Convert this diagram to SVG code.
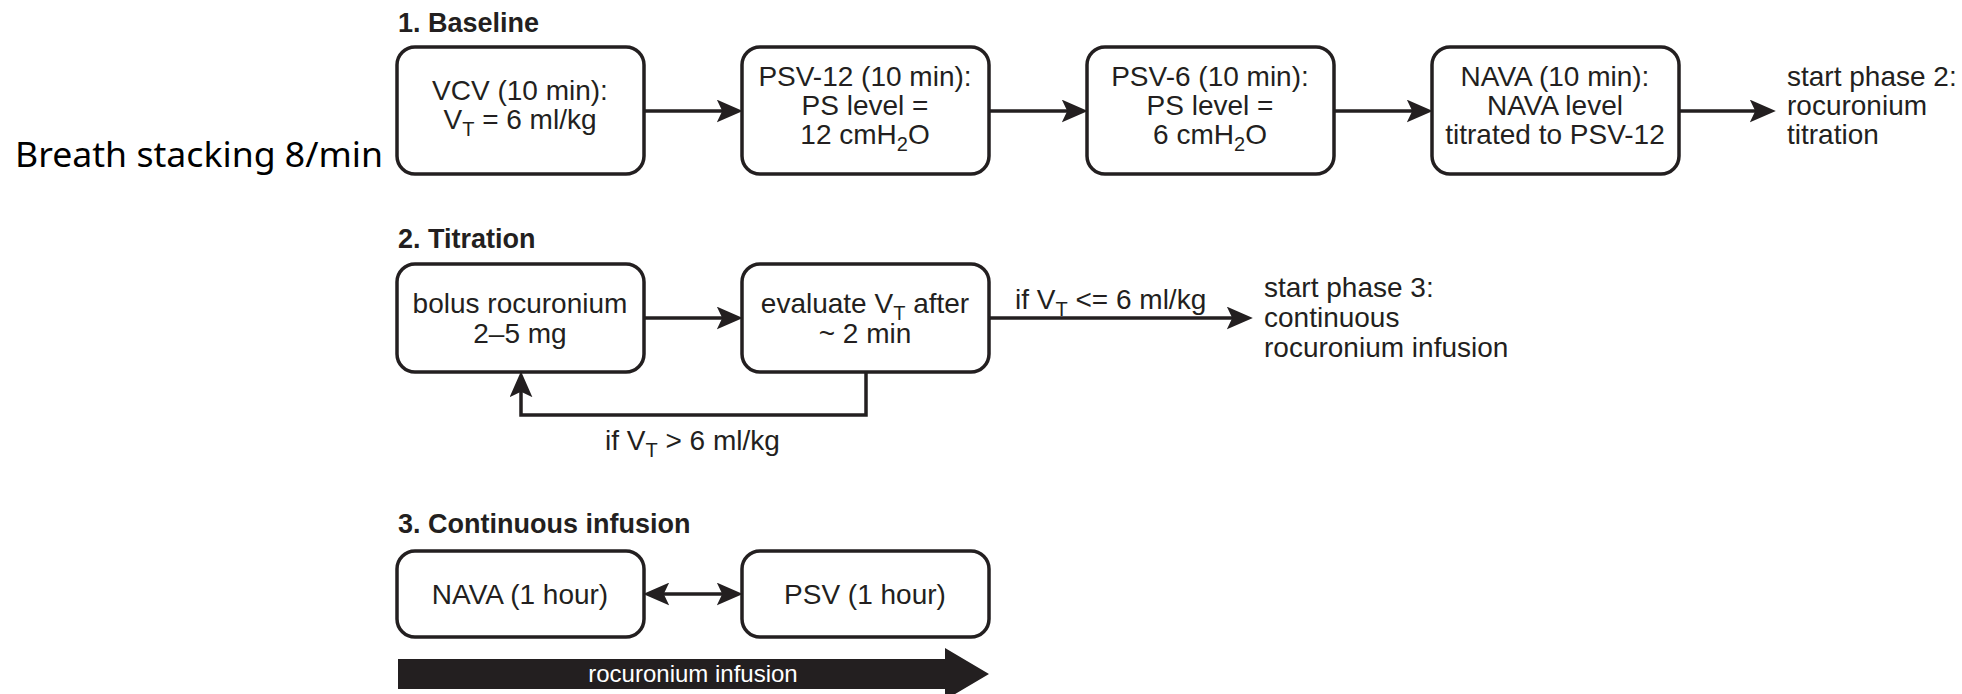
<svg xmlns="http://www.w3.org/2000/svg" width="1962" height="694" viewBox="0 0 1962 694">
  <style>
    .box { fill: #ffffff; stroke: #231f20; stroke-width: 3.5; }
    .lbl { font-family: "Liberation Sans", Arial, sans-serif; font-size: 28px; fill: #231f20; }
    .mid { text-anchor: middle; }
    .head { font-family: "Liberation Sans", Arial, sans-serif; font-size: 27px; font-weight: bold; fill: #231f20; }
    .sub { font-size: 20px; }
    .conn { fill: none; stroke: #231f20; stroke-width: 3.5; }
  </style>
  <defs>
    <marker id="arrow" markerUnits="userSpaceOnUse" markerWidth="26" markerHeight="23" refX="14" refY="10.5" orient="auto-start-reverse" viewBox="0 0 24 21">
      <path d="M0,0 L24,10.5 L0,21 L5,10.5 Z" fill="#231f20"/>
    </marker>
  </defs>
  <rect width="1962" height="694" fill="#ffffff"/>

  <!-- side note -->
  <text x="15" y="167" font-family="'Noto Sans', 'Noto Sans CJK KR', sans-serif" font-size="35" fill="#000000" textLength="368" lengthAdjust="spacingAndGlyphs">Breath stacking 8/min</text>

  <!-- phase headings -->
  <text class="head" x="398" y="32">1. Baseline</text>
  <text class="head" x="398" y="248">2. Titration</text>
  <text class="head" x="398" y="533">3. Continuous infusion</text>

  <!-- phase 1 -->
  <g id="vcv">
    <rect class="box" x="397" y="47" width="247" height="127" rx="18"/>
    <text class="lbl mid" x="520" y="100">VCV (10 min):</text>
    <text class="lbl mid" x="520" y="129">V<tspan class="sub" dy="7">T</tspan><tspan dy="-7"> = 6 ml/kg</tspan></text>
  </g>
  <g id="psv12">
    <rect class="box" x="742" y="47" width="247" height="127" rx="18"/>
    <text class="lbl mid" x="865" y="86">PSV-12 (10 min):</text>
    <text class="lbl mid" x="865" y="115">PS level =</text>
    <text class="lbl mid" x="865" y="144">12 cmH<tspan class="sub" dy="7">2</tspan><tspan dy="-7">O</tspan></text>
  </g>
  <g id="psv6">
    <rect class="box" x="1087" y="47" width="247" height="127" rx="18"/>
    <text class="lbl mid" x="1210" y="86">PSV-6 (10 min):</text>
    <text class="lbl mid" x="1210" y="115">PS level =</text>
    <text class="lbl mid" x="1210" y="144">6 cmH<tspan class="sub" dy="7">2</tspan><tspan dy="-7">O</tspan></text>
  </g>
  <g id="nava">
    <rect class="box" x="1432" y="47" width="247" height="127" rx="18"/>
    <text class="lbl mid" x="1555" y="86">NAVA (10 min):</text>
    <text class="lbl mid" x="1555" y="115">NAVA level</text>
    <text class="lbl mid" x="1555" y="144">titrated to PSV-12</text>
  </g>
  <g id="phase2-start">
    <text class="lbl" x="1787" y="86">start phase 2:</text>
    <text class="lbl" x="1787" y="115">rocuronium</text>
    <text class="lbl" x="1787" y="144">titration</text>
  </g>

  <!-- phase 2 -->
  <g id="bolus">
    <rect class="box" x="397" y="264" width="247" height="108" rx="18"/>
    <text class="lbl mid" x="520" y="313">bolus rocuronium</text>
    <text class="lbl mid" x="520" y="343">2–5 mg</text>
  </g>
  <g id="evaluate">
    <rect class="box" x="742" y="264" width="247" height="108" rx="18"/>
    <text class="lbl mid" x="865" y="313">evaluate V<tspan class="sub" dy="7">T</tspan><tspan dy="-7"> after</tspan></text>
    <text class="lbl mid" x="865" y="343">~ 2 min</text>
  </g>
  <g id="phase3-start">
    <text class="lbl" x="1264" y="297">start phase 3:</text>
    <text class="lbl" x="1264" y="327">continuous</text>
    <text class="lbl" x="1264" y="357">rocuronium infusion</text>
  </g>

  <!-- phase 3 -->
  <g id="nava-hour">
    <rect class="box" x="397" y="551" width="247" height="86" rx="18"/>
    <text class="lbl mid" x="520" y="604">NAVA (1 hour)</text>
  </g>
  <g id="psv-hour">
    <rect class="box" x="742" y="551" width="247" height="86" rx="18"/>
    <text class="lbl mid" x="865" y="604">PSV (1 hour)</text>
  </g>
  <g id="infusion">
    <polygon points="398,659 945,659 945,648 989,674 945,700 945,689 398,689" fill="#231f20"/>
    <text x="693" y="682" font-family="'Liberation Sans', Arial, sans-serif" font-size="24" fill="#ffffff" text-anchor="middle">rocuronium infusion</text>
  </g>

  <!-- connectors -->
  <g id="connectors">
    <path class="conn" d="M644,111 H732" marker-end="url(#arrow)"/>
    <path class="conn" d="M989,111 H1077" marker-end="url(#arrow)"/>
    <path class="conn" d="M1334,111 H1422" marker-end="url(#arrow)"/>
    <path class="conn" d="M1679,111 H1765" marker-end="url(#arrow)"/>
    <path class="conn" d="M644,318 H732" marker-end="url(#arrow)"/>
    <path class="conn" d="M989,318 H1242" marker-end="url(#arrow)"/>
    <path class="conn" d="M866,372 V415 H521 V382" marker-end="url(#arrow)"/>
    <path class="conn" d="M654,594 H732" marker-start="url(#arrow)" marker-end="url(#arrow)"/>
    <text class="lbl" x="1015" y="309">if V<tspan class="sub" dy="7">T</tspan><tspan dy="-7"> &lt;= 6 ml/kg</tspan></text>
    <text class="lbl" x="605" y="450">if V<tspan class="sub" dy="7">T</tspan><tspan dy="-7"> &gt; 6 ml/kg</tspan></text>
  </g>
</svg>
